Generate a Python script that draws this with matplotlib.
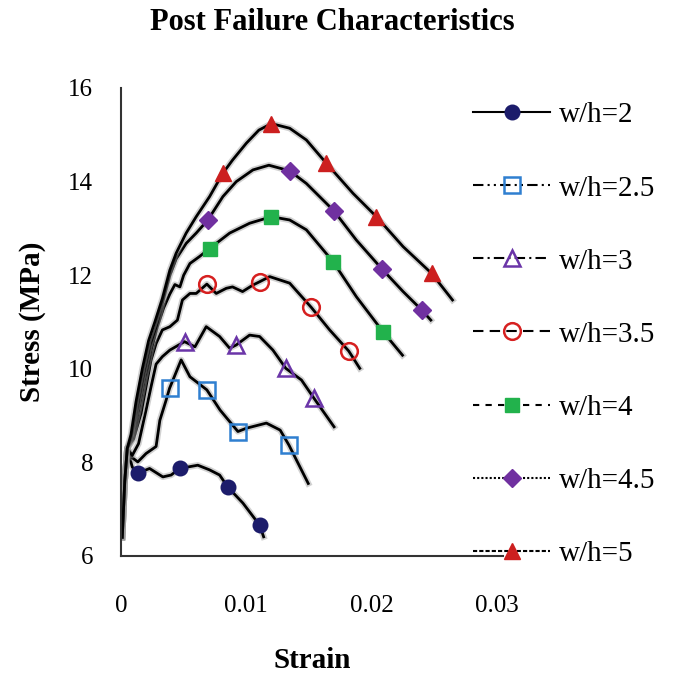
import matplotlib
matplotlib.use("Agg")
import matplotlib.pyplot as plt
import matplotlib.patheffects as pe
from matplotlib.lines import Line2D

plt.rcParams['font.family'] = ['Liberation Serif', 'DejaVu Serif']

labels = ["w/h=2", "w/h=2.5", "w/h=3", "w/h=3.5", "w/h=4", "w/h=4.5", "w/h=5"]

# curve data (strain, stress MPa)
x_2 = [0.0001, 0.0003, 0.0005, 0.0009, 0.00134, 0.00228, 0.00334, 0.0040, 0.00467, 0.00613, 0.00707, 0.00787, 0.00853, 0.00973, 0.01106, 0.01138]
y_2 = [6.4, 7.6, 8.3, 7.9, 7.77, 7.87, 7.69, 7.73, 7.87, 7.94, 7.84, 7.73, 7.47, 7.13, 6.66, 6.41]

x_25 = [0.0001, 0.0003, 0.0005, 0.0009, 0.00134, 0.002, 0.0028, 0.0031, 0.0036, 0.00387, 0.0048, 0.0055, 0.00685, 0.0079, 0.00933, 0.0100, 0.0116, 0.0127, 0.0134, 0.01494]
y_25 = [6.4, 7.6, 8.3, 8.1, 8.01, 8.19, 8.34, 8.9, 9.33, 9.58, 10.19, 9.83, 9.55, 9.12, 8.66, 8.73, 8.84, 8.69, 8.37, 7.55]

x_3 = [0.0001, 0.0003, 0.0005, 0.0009, 0.0014, 0.0020, 0.0024, 0.0028, 0.0033, 0.0039, 0.00507, 0.0059, 0.0068, 0.00787, 0.00867, 0.0092, 0.01026, 0.01106, 0.01212, 0.01315, 0.0144, 0.0154, 0.0170]
y_3 = [6.4, 7.6, 8.3, 8.15, 8.4, 9.12, 9.62, 10.1, 10.26, 10.40, 10.58, 10.47, 10.9, 10.69, 10.44, 10.51, 10.72, 10.69, 10.40, 10.01, 9.76, 9.37, 8.76]

x_35 = [0.0001, 0.0003, 0.0005, 0.0010, 0.0016, 0.0020, 0.0024, 0.0028, 0.0033, 0.0039, 0.0045, 0.0049, 0.0055, 0.0060, 0.00685, 0.0076, 0.0084, 0.0089, 0.0097, 0.01053, 0.01106, 0.01186, 0.01346, 0.01519, 0.01665, 0.01817, 0.01905]
y_35 = [6.4, 7.6, 8.3, 8.5, 9.05, 9.62, 10.19, 10.54, 10.83, 10.90, 11.04, 11.47, 11.61, 11.61, 11.81, 11.61, 11.72, 11.75, 11.65, 11.79, 11.86, 11.97, 11.83, 11.31, 10.83, 10.38, 10.01]

x_4 = [0.0001, 0.0003, 0.0005, 0.0009, 0.0014, 0.0019, 0.0024, 0.0029, 0.0034, 0.0039, 0.0043, 0.0047, 0.0050, 0.0055, 0.00627, 0.00707, 0.00867, 0.01026, 0.0120, 0.01346, 0.01479, 0.01692, 0.01878, 0.02091, 0.02246]
y_4 = [6.4, 7.6, 8.3, 8.5, 9.1, 9.8, 10.4, 10.9, 11.3, 11.6, 11.8, 11.75, 12.0, 12.25, 12.40, 12.57, 12.9, 13.11, 13.25, 13.18, 12.97, 12.29, 11.54, 10.79, 10.29]

x_45 = [0.0001, 0.0003, 0.0005, 0.0008, 0.0013, 0.0018, 0.0023, 0.0028, 0.0034, 0.0039, 0.0044, 0.0052, 0.0060, 0.00693, 0.00813, 0.0092, 0.01053, 0.0118, 0.01346, 0.01479, 0.01697, 0.01878, 0.02083, 0.02251, 0.02398, 0.02472]
y_45 = [6.4, 7.6, 8.3, 8.5, 9.2, 9.9, 10.5, 10.9, 11.5, 12.0, 12.35, 12.68, 12.9, 13.18, 13.68, 14.0, 14.25, 14.35, 14.23, 13.96, 13.38, 12.75, 12.13, 11.65, 11.26, 11.04]

x_5 = [0.0001, 0.0003, 0.0005, 0.0008, 0.0012, 0.0017, 0.0022, 0.0027, 0.0033, 0.0039, 0.0044, 0.0052, 0.0060, 0.00707, 0.00813, 0.0089, 0.0100, 0.0110, 0.0120, 0.01346, 0.01479, 0.01639, 0.01851, 0.02038, 0.02251, 0.02478, 0.02645]
y_5 = [6.4, 7.6, 8.3, 8.6, 9.3, 10.0, 10.6, 11.0, 11.5, 12.11, 12.47, 12.9, 13.25, 13.68, 14.18, 14.46, 14.82, 15.1, 15.24, 15.14, 14.89, 14.39, 13.75, 13.25, 12.61, 12.04, 11.47]

# marker points
mx_2 = [0.00134, 0.00467, 0.00853, 0.01106]
my_2 = [7.77, 7.87, 7.47, 6.66]
mx_25 = [0.00387, 0.00685, 0.00933, 0.0134]
my_25 = [9.58, 9.55, 8.66, 8.37]
mx_3 = [0.00507, 0.0092, 0.01315, 0.0154]
my_3 = [10.58, 10.51, 10.01, 9.37]
mx_35 = [0.00685, 0.01106, 0.01519, 0.01817]
my_35 = [11.81, 11.86, 11.31, 10.38]
mx_4 = [0.00707, 0.0120, 0.01692, 0.02091]
my_4 = [12.57, 13.25, 12.29, 10.79]
mx_45 = [0.00693, 0.01346, 0.01697, 0.02083, 0.02398]
my_45 = [13.18, 14.23, 13.38, 12.13, 11.26]
mx_5 = [0.00813, 0.0120, 0.01639, 0.02038, 0.02478]
my_5 = [14.18, 15.24, 14.39, 13.25, 12.04]

x_ticks = [0, 0.01, 0.02, 0.03]
x_ticklabels = ["0", "0.01", "0.02", "0.03"]
y_ticks = [6, 8, 10, 12, 14, 16]

curves = [(x_2, y_2), (x_25, y_25), (x_3, y_3), (x_35, y_35), (x_4, y_4), (x_45, y_45), (x_5, y_5)]
marks = [(mx_2, my_2), (mx_25, my_25), (mx_3, my_3), (mx_35, my_35), (mx_4, my_4), (mx_45, my_45), (mx_5, my_5)]

styles = [
    dict(marker='o', mfc='#1c1c6b', mec='#1c1c6b', ms=10, mew=1.5, ls='-'),
    dict(marker='s', mfc='none', mec='#2f7fd0', ms=11, mew=1.8, ls=(0, (5, 2, 1, 2, 1, 2))),
    dict(marker='^', mfc='none', mec='#6b35a8', ms=12, mew=1.8, ls=(0, (5, 2, 1, 2))),
    dict(marker='o', mfc='none', mec='#d62020', ms=12, mew=1.8, ls=(0, (5, 3))),
    dict(marker='s', mfc='#22b24c', mec='#22b24c', ms=10, mew=1.0, ls=(0, (3, 3))),
    dict(marker='D', mfc='#7030a0', mec='#7030a0', ms=9, mew=1.0, ls=(0, (1, 1))),
    dict(marker='^', mfc='#cc1f1f', mec='#cc1f1f', ms=11, mew=1.0, ls=(0, (2, 1))),
]

fig = plt.figure(figsize=(6.75, 6.73), dpi=100)
ax = fig.add_axes([121 / 675, 1 - 556 / 673, (503 - 121) / 675, (556 - 88) / 673])

shadow = [pe.Stroke(linewidth=4.5, foreground='#9a9a9a', alpha=0.45), pe.Normal()]
for (cx, cy), (mx, my), st in zip(curves, marks, styles):
    ax.plot(cx, cy, color='black', lw=2.0, solid_joinstyle='round', path_effects=shadow, zorder=2)
    ax.plot(mx, my, ls='none', marker=st['marker'], mfc=st['mfc'], mec=st['mec'],
            ms=st['ms'], mew=st['mew'], zorder=3)

ax.set_xlim(0, 0.03048)
ax.set_ylim(6, 16)
ax.set_xticks(x_ticks)
ax.set_xticklabels(x_ticklabels)
ax.set_yticks(y_ticks)
ax.tick_params(axis='both', length=0, labelsize=18)
ax.tick_params(axis='y', pad=20)
ax.tick_params(axis='x', pad=28)
for s in ['top', 'right']:
    ax.spines[s].set_visible(False)
for s in ['left', 'bottom']:
    ax.spines[s].set_linewidth(1.5)
    ax.spines[s].set_color('#333333')

ax.set_xlabel('Strain', fontsize=21, fontweight='bold', labelpad=22)
ax.set_ylabel('Stress (MPa)', fontsize=21, fontweight='bold', labelpad=16)
fig.suptitle('Post Failure Characteristics', fontsize=22, fontweight='bold', x=0.493, y=0.988)

handles = [Line2D([], [], color='black', lw=1.5, ls=st['ls'], marker=st['marker'],
                  mfc=st['mfc'], mec=st['mec'], ms=st['ms'], mew=st['mew']) for st in styles]
fig.legend(handles, labels, loc='upper left', bbox_to_anchor=(473 / 675, 1 - 102 / 673),
           frameon=False, fontsize=21, handlelength=2.65, handletextpad=0.3,
           labelspacing=1.6, borderaxespad=0, borderpad=0)

fig.savefig('out.png', dpi=100)
